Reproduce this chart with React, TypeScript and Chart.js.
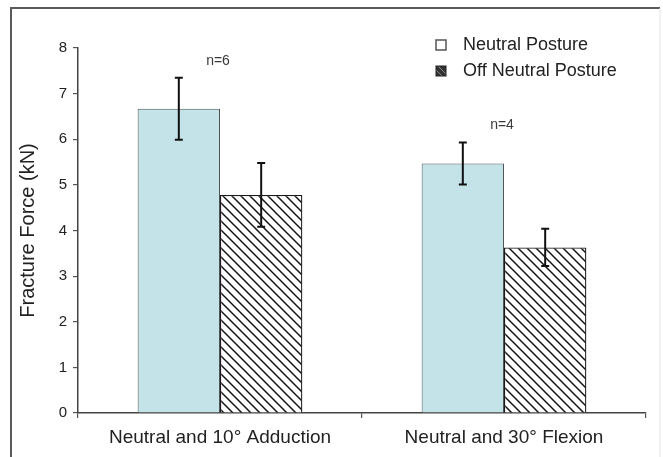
import { useEffect, useRef } from "react";
import { Chart, registerables } from "chart.js";

Chart.register(...registerables);

const categories = ["Neutral and 10° Adduction", "Neutral and 30° Flexion"];
const seriesNames = ["Neutral Posture", "Off Neutral Posture"];
const neutralValues = [6.67, 5.47];
const neutralErrors = [0.68, 0.46];
const offNeutralValues = [4.78, 3.63];
const offNeutralErrors = [0.7, 0.41];
const sampleLabels = ["n=6", "n=4"];
const yMin = 0;
const yMax = 8;
const yStep = 1;
const yTitle = "Fracture Force (kN)";

const FONT = "'Liberation Sans', Arial, sans-serif";
const TEXT = "#222222";

function makeHatch(ctx: CanvasRenderingContext2D): CanvasPattern | string {
  const s = 9;
  const c = document.createElement("canvas");
  c.width = s;
  c.height = s;
  const g = c.getContext("2d");
  if (!g) return "#fff";
  g.fillStyle = "#ffffff";
  g.fillRect(0, 0, s, s);
  g.strokeStyle = "#151515";
  g.lineWidth = 1.5;
  g.beginPath();
  g.moveTo(0, 0);
  g.lineTo(s, s);
  g.moveTo(-1, s - 1);
  g.lineTo(1, s + 1);
  g.moveTo(s - 1, -1);
  g.lineTo(s + 1, 1);
  g.stroke();
  return ctx.createPattern(c, "repeat") || "#fff";
}

export default function App() {
  const ref = useRef<HTMLCanvasElement | null>(null);

  useEffect(() => {
    const canvas = ref.current;
    if (!canvas) return;
    const ctx = canvas.getContext("2d");
    if (!ctx) return;
    const hatch = makeHatch(ctx);
    const errors = [neutralErrors, offNeutralErrors];

    const framePlugin = {
      id: "frame",
      beforeDraw(chart: any) {
        const c = chart.ctx;
        c.save();
        c.fillStyle = "#ffffff";
        c.fillRect(0, 0, chart.width, chart.height);
        c.strokeStyle = "#5a5a5a";
        c.lineWidth = 2;
        c.beginPath();
        c.moveTo(11, chart.height);
        c.lineTo(11, 8);
        c.lineTo(660, 8);
        c.stroke();
        c.strokeStyle = "#e4e4e4";
        c.lineWidth = 1;
        c.beginPath();
        c.moveTo(660, 8);
        c.lineTo(660, chart.height);
        c.stroke();
        c.restore();
      },
    };

    const errorPlugin = {
      id: "errorBars",
      afterDatasetsDraw(chart: any) {
        const c = chart.ctx;
        const y = chart.scales.y;
        c.save();
        c.strokeStyle = "#111";
        c.lineWidth = 2;
        chart.data.datasets.forEach((ds: any, i: number) => {
          const meta = chart.getDatasetMeta(i);
          meta.data.forEach((bar: any, j: number) => {
            const v = ds.data[j];
            const e = errors[i][j];
            const top = y.getPixelForValue(v + e);
            const bot = y.getPixelForValue(v - e);
            const x = bar.x;
            const cap = 4;
            c.beginPath();
            c.moveTo(x, top);
            c.lineTo(x, bot);
            c.moveTo(x - cap, top);
            c.lineTo(x + cap, top);
            c.moveTo(x - cap, bot);
            c.lineTo(x + cap, bot);
            c.stroke();
          });
        });
        c.restore();
      },
    };

    const nPlugin = {
      id: "nLabels",
      afterDatasetsDraw(chart: any) {
        const c = chart.ctx;
        const xs = chart.scales.x;
        const ys = chart.scales.y;
        c.save();
        c.fillStyle = "#3a3a3a";
        c.font = `14px ${FONT}`;
        c.textAlign = "center";
        c.textBaseline = "middle";
        sampleLabels.forEach((lab, j) => {
          const topVal = Math.max(
            neutralValues[j] + neutralErrors[j],
            offNeutralValues[j] + offNeutralErrors[j]
          );
          const x = xs.getPixelForValue(j) - 2;
          const yy = ys.getPixelForValue(topVal) - 17;
          c.fillText(lab, x, yy);
        });
        c.restore();
      },
    };

    const legendPlugin = {
      id: "customLegend",
      afterDraw(chart: any) {
        const c = chart.ctx;
        const area = chart.chartArea;
        const bx = area.right - 210;
        const rows = [area.top - 3, area.top + 23];
        c.save();
        c.font = `18px ${FONT}`;
        c.textBaseline = "middle";
        c.textAlign = "left";
        seriesNames.forEach((name, i) => {
          const yy = rows[i];
          if (i === 0) {
            c.fillStyle = "#ffffff";
            c.fillRect(bx, yy - 5, 10, 10);
            c.strokeStyle = "#555";
            c.lineWidth = 1.5;
            c.strokeRect(bx, yy - 5, 10, 10);
          } else {
            c.fillStyle = "#333333";
            c.fillRect(bx, yy - 5, 10, 10);
            c.strokeStyle = "#888";
            c.lineWidth = 1;
            c.beginPath();
            c.moveTo(bx + 2, yy - 5);
            c.lineTo(bx + 10, yy + 3);
            c.moveTo(bx, yy - 1);
            c.lineTo(bx + 6, yy + 5);
            c.stroke();
            c.strokeStyle = "#222";
            c.strokeRect(bx, yy - 5, 10, 10);
          }
          c.fillStyle = TEXT;
          c.fillText(name, bx + 27, yy);
        });
        c.restore();
      },
    };

    const chart = new Chart(ctx, {
      type: "bar",
      data: {
        labels: categories,
        datasets: [
          {
            label: seriesNames[0],
            data: neutralValues,
            backgroundColor: "#c3e3e9",
            borderColor: "#4d5558",
            borderWidth: 1,
            borderSkipped: "start",
            categoryPercentage: 0.58,
            barPercentage: 1,
          },
          {
            label: seriesNames[1],
            data: offNeutralValues,
            backgroundColor: hatch as any,
            borderColor: "#1a1a1a",
            borderWidth: 1.3,
            borderSkipped: "start",
            categoryPercentage: 0.58,
            barPercentage: 1,
          },
        ],
      },
      options: {
        responsive: false,
        animation: false,
        events: [],
        layout: { padding: { top: 48, right: 17, left: 0, bottom: 0 } },
        plugins: {
          legend: { display: false },
          tooltip: { enabled: false },
          title: { display: false },
        },
        scales: {
          x: {
            grid: {
              display: true,
              drawOnChartArea: false,
              drawTicks: true,
              tickLength: 5,
              color: "#555",
              lineWidth: 1.2,
            },
            border: { display: true, color: "#444", width: 1.5 },
            ticks: {
              color: TEXT,
              font: { family: FONT, size: 19 },
              padding: 8,
              maxRotation: 0,
              autoSkip: false,
            },
            afterFit(scale: any) {
              scale.height = 44;
            },
          },
          y: {
            min: yMin,
            max: yMax,
            grid: {
              display: true,
              drawOnChartArea: false,
              drawTicks: true,
              tickLength: 5,
              color: "#555",
              lineWidth: 1.2,
            },
            border: { display: true, color: "#444", width: 1.5 },
            ticks: {
              stepSize: yStep,
              color: TEXT,
              font: { family: FONT, size: 15 },
              padding: 6,
            },
            title: {
              display: true,
              text: yTitle,
              color: TEXT,
              font: { family: FONT, size: 20, weight: "normal" },
              padding: { top: 16, bottom: 0 },
            },
            afterFit(scale: any) {
              scale.width = 78;
            },
          },
        },
      },
      plugins: [framePlugin, errorPlugin, nPlugin, legendPlugin],
    });

    return () => {
      chart.destroy();
    };
  }, []);

  return (
    <div style={{ position: "absolute", left: 0, top: 0, width: 663, height: 457 }}>
      <canvas ref={ref} width={663} height={457} />
    </div>
  );
}
